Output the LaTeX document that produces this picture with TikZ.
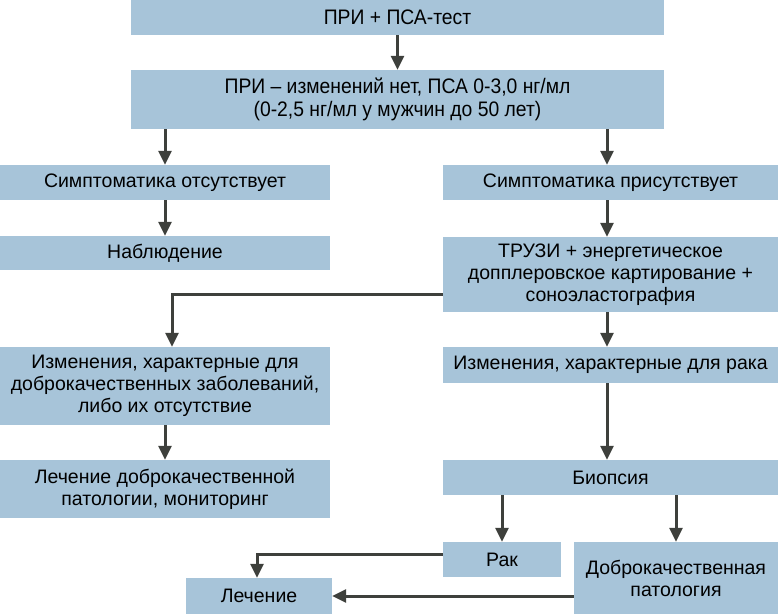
\documentclass[tikz,border=0pt]{standalone}
\usepackage{fontspec}
\setmainfont{Liberation Sans}
\newfontfamily\estrecha[FakeStretch=0.92]{Liberation Sans}
\usetikzlibrary{arrows.meta}
\definecolor{azul}{HTML}{A7C4D9}
\definecolor{gris}{HTML}{3E403C}
\tikzstyle{caja}=[rectangle,fill=azul,inner sep=0pt,align=center,font=\fontsize{19.5}{22}\selectfont]
\tikzstyle{ancha}=[caja,minimum width=533pt,font=\estrecha\fontsize{21}{23.5}\selectfont]
\tikzstyle{flecha}=[draw=gris,line width=3pt,-{Triangle[length=14pt,width=13pt]}]

\begin{document}
\begin{tikzpicture}[x=1pt,y=-1pt]
		\useasboundingbox (0,0) rectangle (778,614);
		\node (a) at (397.5,17.5) [ancha,minimum height=35pt] {ПРИ + ПСА-тест};
		\node (b) at (397.5,99.5) [ancha,minimum height=59pt] {ПРИ – изменений нет, ПСА 0-3,0 нг/мл\\(0-2,5 нг/мл у мужчин до 50 лет)};
		\node (c) at (165,182.5) [caja,minimum width=330pt,minimum height=35pt] {Симптоматика отсутствует};
		\node (d) at (610.5,182.5) [caja,minimum width=335pt,minimum height=35pt] {Симптоматика присутствует};
		\node (e) at (165,253) [caja,minimum width=330pt,minimum height=34pt] {Наблюдение};
		\node (f) at (610.5,274.5) [caja,minimum width=335pt,minimum height=75pt] {ТРУЗИ + энергетическое\\допплеровское картирование +\\соноэластография};
		\node (g) at (165,386) [caja,minimum width=330pt,minimum height=78pt] {Изменения, характерные для\\доброкачественных заболеваний,\\либо их отсутствие};
		\node (h) at (165,489) [caja,minimum width=330pt,minimum height=58pt] {Лечение доброкачественной\\патологии, мониторинг};
		\node (i) at (610.5,365) [caja,minimum width=335pt,minimum height=36pt] {Изменения, характерные для рака};
		\node (j) at (610.5,477.5) [caja,minimum width=335pt,minimum height=35pt] {Биопсия};
		\node (k) at (502,559.5) [caja,minimum width=118pt,minimum height=35pt] {Рак};
		\node (l) at (676,578) [caja,minimum width=204pt,minimum height=72pt] {Доброкачественная\\патология};
		\node (m) at (259,596) [caja,minimum width=146pt,minimum height=36pt] {Лечение};

		\draw[flecha] (a)--(b);
		\draw[flecha] (b.south -| c)--(c);
		\draw[flecha] ([xshift=-3.5pt]b.south -| d)--([xshift=-3.5pt]d.north);
		\draw[flecha] (c)--(e);
		\draw[flecha] ([xshift=-3.5pt]d.south)--([xshift=-3.5pt]f.north);
		\draw[flecha] ([yshift=-19.5pt]f.west) -| ([xshift=7pt]g.north);
		\draw[flecha] (g)--(h);
		\draw[flecha] ([xshift=-3.5pt]f.south)--([xshift=-3.5pt]i.north);
		\draw[flecha] ([xshift=-3.5pt]i.south)--([xshift=-3.5pt]j.north);
		\draw[flecha] (j.south -| k)--(k);
		\draw[flecha] (j.south -| l)--(l);
		\draw[flecha] ([yshift=5.5pt]k.west) -| ([xshift=-2pt]m.north);
		\draw[flecha] (l.west |- m)--(m);
	\end{tikzpicture}
\end{document}
